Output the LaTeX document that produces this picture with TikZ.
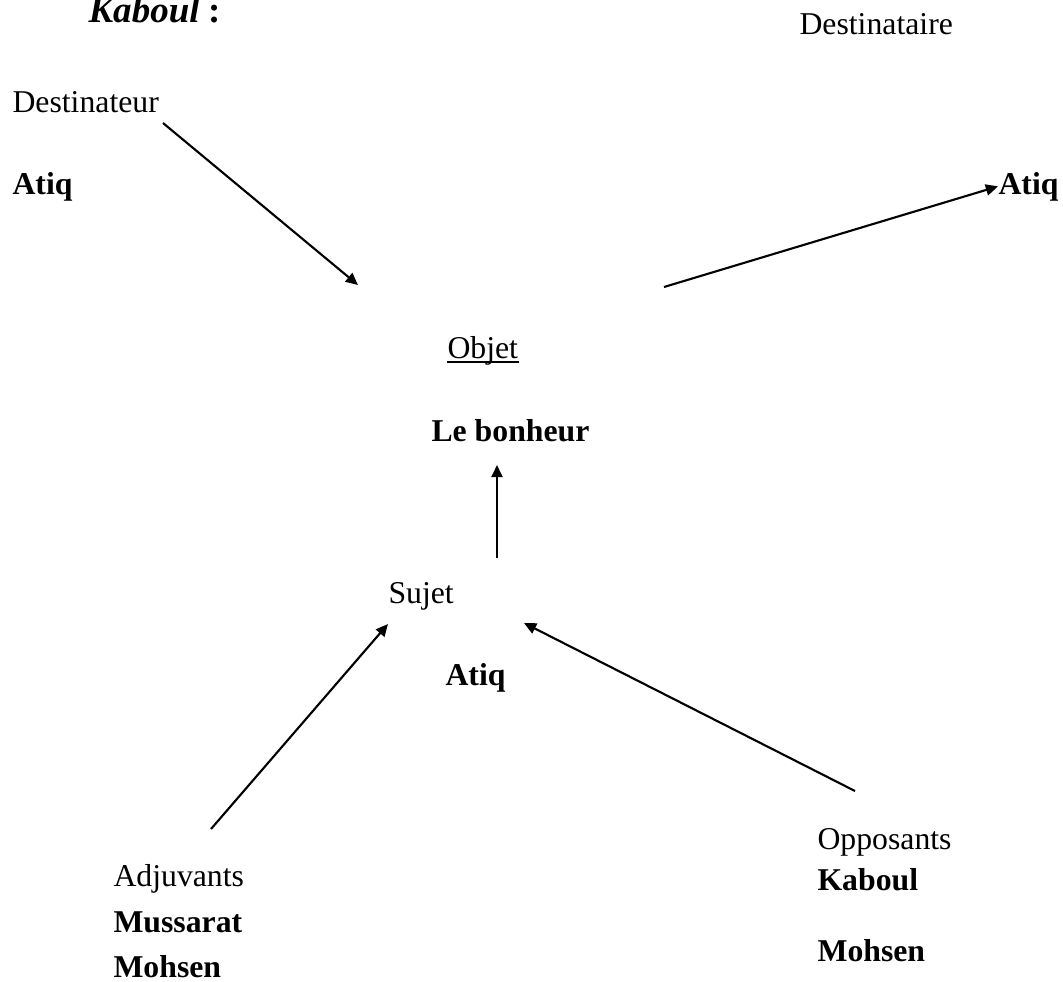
\documentclass[tikz,border=0pt]{standalone}
\usepackage{fontspec}
\setmainfont{Liberation Serif}
\usetikzlibrary{positioning,arrows.meta}
\tikzset{
  actlabel/.style={anchor=base west, inner sep=0pt, font=\fontsize{12}{14.4}\selectfont},
  actname/.style={actlabel, font=\fontsize{12}{14.4}\selectfont\bfseries},
  actarrow/.style={-{Triangle[length=4.6pt,width=4.2pt]}, line width=0.8pt},
}

\begin{document}
\begin{tikzpicture}[x=0.378pt, y=-0.378pt]
  \useasboundingbox (0,0) rectangle (1063,981);
  \node[actlabel, font=\fontsize{14}{16}\selectfont\bfseries] (title) at (88,22) {\textit{Kaboul} :};
  % destinateur / destinataire
  \node[actlabel] (dest) at (12,112) {Destinateur};
  \node[actname] (destname) at (12,194) {Atiq};
  \node[actlabel] (destaire) at (799,34) {Destinataire};
  \node[actname] (destairename) at (998,194) {Atiq};
  % objet
  \node[actlabel] (objet) at (447,358) {Objet};
  \draw[line width=0.8pt] ([yshift=-1.6pt]objet.base west) -- ([yshift=-1.6pt]objet.base east);
  \node[actname] (objetname) at (431,441) {Le bonheur};
  % sujet
  \node[actlabel] (sujet) at (388,603) {Sujet};
  \node[actname] (sujetname) at (445,685) {Atiq};
  % adjuvants / opposants
  \node[actlabel] (adj) at (113,886) {Adjuvants};
  \node[actname] (adj1) at (113,932) {Mussarat};
  \node[actname] (adj2) at (113,977) {Mohsen};
  \node[actlabel] (opp) at (817,849) {Opposants};
  \node[actname] (opp1) at (817,890) {Kaboul};
  \node[actname] (opp2) at (817,961) {Mohsen};
  % arrow ends
  \coordinate (destout) at (163,123);
  \coordinate (objin) at (358,285);
  \coordinate (objout) at (664,287);
  \coordinate (suj) at (497,558);
  \coordinate (objbot) at (497,465);
  \coordinate (adjout) at (211,829);
  \coordinate (sujleft) at (388,624);
  \coordinate (oppout) at (855,791);
  \coordinate (sujright) at (524,623);
  \draw[actarrow] (destout) -- (objin);
  \draw[actarrow] (objout) -- (destairename.west);
  \draw[actarrow] (suj) -- (objbot);
  \draw[actarrow] (adjout) -- (sujleft);
  \draw[actarrow] (oppout) -- (sujright);
\end{tikzpicture}
\end{document}
